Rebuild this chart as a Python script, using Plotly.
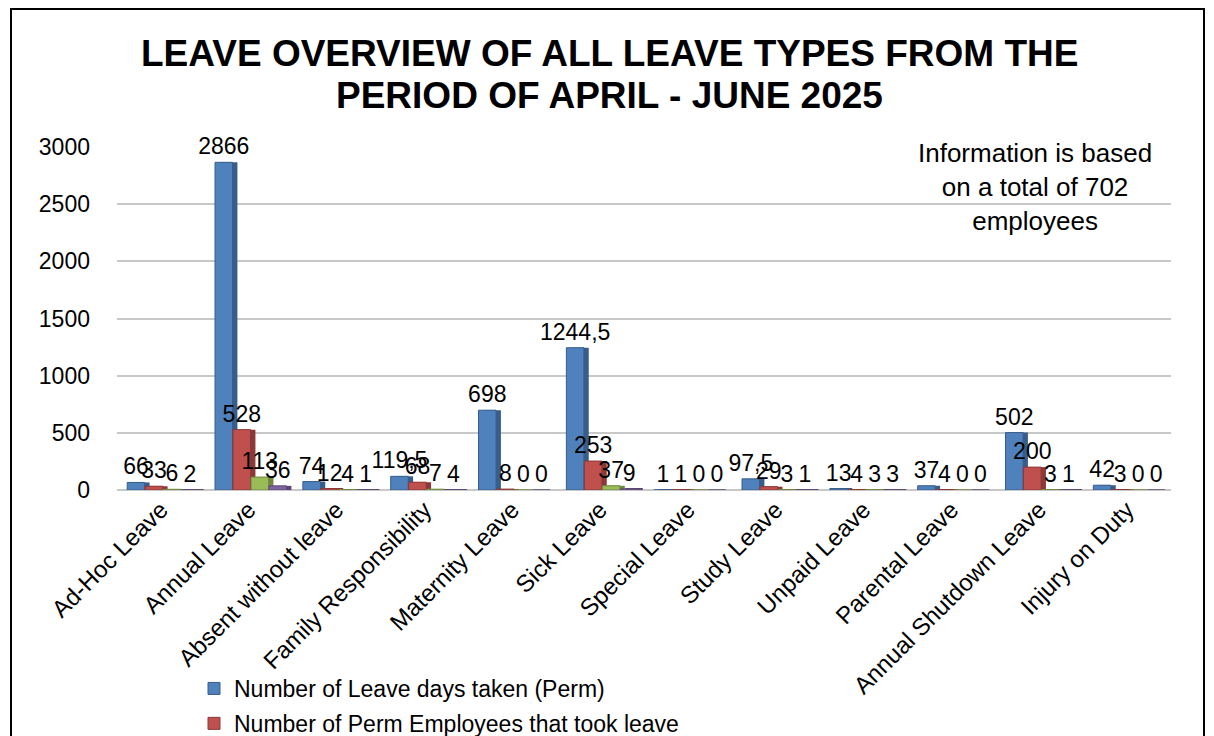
import plotly.graph_objects as go

categories = ["Ad-Hoc Leave", "Annual Leave", "Absent without leave", "Family Responsibility",
              "Maternity Leave", "Sick Leave", "Special Leave", "Study Leave", "Unpaid Leave",
              "Parental Leave", "Annual Shutdown Leave", "Injury on Duty"]
leave_days_perm = [66, 2866, 74, 119.5, 698, 1244.5, 1, 97.5, 13, 37, 502, 42]
perm_employees = [33, 528, 12, 68, 8, 253, 1, 29, 4, 4, 200, 3]
leave_days_contract = [6, 113, 4, 7, 0, 37, 0, 3, 3, 0, 3, 0]
contract_employees = [2, 36, 1, 4, 0, 9, 0, 1, 3, 0, 1, 0]

series_names = ["Number of Leave days taken (Perm)", "Number of Perm Employees that took leave",
                "Number of Leave days taken (Contract)", "Number of Contract Employees that took leave"]
series_values = [leave_days_perm, perm_employees, leave_days_contract, contract_employees]
colors = ["#4F81BD", "#C0504D", "#9BBB59", "#8064A2"]
side_colors = ["#385D8A", "#8C3836", "#71893F", "#5C4776"]
y_ticks = [0, 500, 1000, 1500, 2000, 2500, 3000]
title_lines = ["LEAVE OVERVIEW OF ALL LEAVE TYPES FROM THE", "PERIOD OF APRIL - JUNE 2025"]

def fmt(v):
    return ("%g" % v).replace(".", ",")

FONT = "Liberation Sans, Arial, sans-serif"

L, R, T, B = 109, 51, 139, 254
W, H = 1214, 736
pw, ph = W - L - R, H - T - B

def px_to_paper_x(px):
    return (px - L) / pw

def px_to_paper_y(py):
    return (H - B - py) / ph

BAR_W = 0.2
STEP = 0.205
FIRST = -0.384
DEPTH = 0.055

fig = go.Figure()
for i, (name, vals) in enumerate(zip(series_names, series_values)):
    off = FIRST + i * STEP
    # darker side face (pseudo 3D)
    fig.add_trace(go.Bar(
        x=categories, y=vals, name=name + " side", offset=off + DEPTH, width=BAR_W,
        marker=dict(color=side_colors[i], line=dict(width=0)),
        showlegend=False, hoverinfo="skip",
    ))
    fig.add_trace(go.Bar(
        x=categories, y=vals, name=name, legendgroup=f"g{i}", offset=off, width=BAR_W,
        marker=dict(color=colors[i], line=dict(color=side_colors[i], width=1)),
        text=[fmt(v) for v in vals], textposition="outside", constraintext="none",
        textfont=dict(size=23, color="black", family=FONT),
        cliponaxis=False, showlegend=(i < 2),
    ))

fig.update_layout(
    width=W, height=H,
    margin=dict(l=L, r=R, t=T, b=B, autoexpand=False),
    paper_bgcolor="white", plot_bgcolor="white",
    barmode="overlay",
    font=dict(family=FONT, color="black"),
    xaxis=dict(tickangle=-45, tickfont=dict(size=24, family=FONT), showline=False,
               ticks="", showgrid=False),
    yaxis=dict(range=[0, 3000], tickvals=y_ticks, tickfont=dict(size=23, family=FONT),
               showgrid=True, gridcolor="#C8C8C8", gridwidth=2, zeroline=True,
               zerolinecolor="#C8C8C8", zerolinewidth=2, ticks="", ticklabelstandoff=26),
    legend=dict(x=px_to_paper_x(186), y=px_to_paper_y(659), xanchor="left", yanchor="top",
                orientation="v", traceorder="grouped", tracegroupgap=2,
                font=dict(size=23, family=FONT), itemwidth=30,
                bgcolor="rgba(0,0,0,0)"),
    annotations=[
        dict(text="<b>" + title_lines[0] + "</b>", xref="paper", yref="paper",
             x=px_to_paper_x(601), y=px_to_paper_y(45),
             xanchor="center", yanchor="middle", showarrow=False,
             font=dict(size=37, family=FONT, color="black")),
        dict(text="<b>" + title_lines[1] + "</b>", xref="paper", yref="paper",
             x=px_to_paper_x(601), y=px_to_paper_y(87),
             xanchor="center", yanchor="middle", showarrow=False,
             font=dict(size=37, family=FONT, color="black")),
        dict(text="Information is based<br>on a total of 702<br>employees",
             xref="paper", yref="paper", x=px_to_paper_x(1027), y=px_to_paper_y(128),
             xanchor="center", yanchor="top", showarrow=False, align="center",
             font=dict(size=26, family=FONT, color="black")),
    ],
    shapes=[dict(type="rect", xref="paper", yref="paper",
                 x0=px_to_paper_x(3), x1=px_to_paper_x(1196),
                 y0=px_to_paper_y(800), y1=px_to_paper_y(1),
                 line=dict(color="black", width=2), layer="below")],
)

fig.write_html("out.html")
